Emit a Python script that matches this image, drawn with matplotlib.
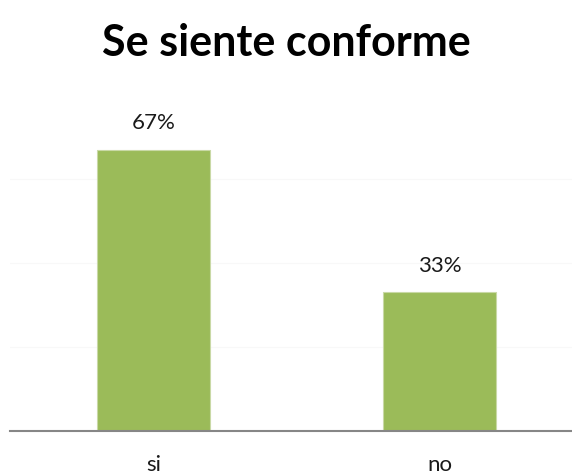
import matplotlib.pyplot as plt

categories = ["si", "no"]
values = [67, 33]
labels = ["67%", "33%"]

plt.rcParams["font.family"] = ["Lato", "DejaVu Sans"]

fig = plt.figure(figsize=(5.72, 4.75), dpi=100)
ax = fig.add_axes([10 / 572, 44 / 475, 562 / 572, 336 / 475])

x = range(len(categories))
bars = ax.bar(x, values, width=0.395, color="#9BBB59", edgecolor="#C9D9A6", linewidth=0.8)

for bar, lab in zip(bars, labels):
    ax.text(bar.get_x() + bar.get_width() / 2, bar.get_height() + 4.8, lab,
            ha="center", va="baseline", fontsize=16, color="#1a1a1a")

ax.set_xlim(-0.502, 1.463)
ax.set_ylim(0, 80)
for y in [20, 40, 60]:
    ax.axhline(y, color="#F8F8F8", linewidth=0.8, zorder=0)

ax.set_xticks(list(x))
ax.set_xticklabels(categories, fontsize=16, color="#1a1a1a")
ax.tick_params(axis="x", length=0, pad=17)
ax.set_yticks([])
for side in ["top", "right", "left"]:
    ax.spines[side].set_visible(False)
ax.spines["bottom"].set_color("#868686")
ax.spines["bottom"].set_linewidth(1.5)

fig.text(0.5, 1 - 56 / 475, "Se siente conforme", ha="center", va="baseline",
         fontsize=31, fontweight="bold", color="#000000")

fig.savefig("out.png", dpi=100)
